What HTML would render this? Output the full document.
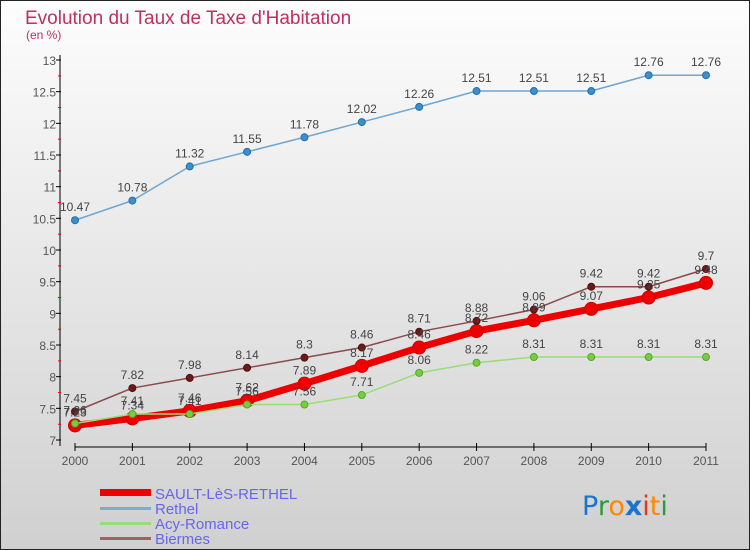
<!DOCTYPE html>
<html><head><meta charset="utf-8"><style>
body{margin:0;}
#wrap{position:relative;width:750px;height:550px;overflow:hidden;font-family:"Liberation Sans",sans-serif;}
</style></head><body>
<div id="wrap">
<svg id="chart" width="750" height="550" xmlns="http://www.w3.org/2000/svg">
<defs><linearGradient id="bg" x1="0" y1="0" x2="0" y2="1"><stop offset="0" stop-color="#fdfdfd"/><stop offset="1" stop-color="#d0d0d0"/></linearGradient></defs>
<rect x="0.5" y="0.5" width="749" height="549" fill="url(#bg)" stroke="#222"/>
<text x="25" y="24" font-size="19" fill="#c0305e">Evolution du Taux de Taxe d'Habitation</text>
<text x="26" y="39" font-size="12" fill="#c0305e">(en %)</text>
<g id="axes"></g><g id="series"></g><g id="labels"></g>
<g>
<rect x="100" y="489" width="51" height="7" fill="#ee0000"/>
<text x="155" y="499" font-size="15" fill="#6666ee">SAULT-LèS-RETHEL</text>
<rect x="100" y="507" width="51" height="3" fill="#7aaed0"/>
<text x="155" y="514" font-size="15" fill="#6666ee">Rethel</text>
<rect x="100" y="522" width="51" height="3" fill="#99dd77"/>
<text x="155" y="529" font-size="15" fill="#6666ee">Acy-Romance</text>
<rect x="100" y="537" width="51" height="3" fill="#996666"/>
<text x="155" y="544" font-size="15" fill="#6666ee">Biermes</text>
</g>
<text x="582" y="515" font-size="27" font-family="'DejaVu Sans',sans-serif"><tspan fill="#1a73cc">P</tspan><tspan fill="#2a9a3a">r</tspan><tspan fill="#ff8800">o</tspan><tspan fill="#1a73cc" font-weight="bold">x</tspan><tspan fill="#ee3311">i</tspan><tspan fill="#ff8800">t</tspan><tspan fill="#2a9a3a">i</tspan></text>
</svg>
</div>
<script>
const years=[2000,2001,2002,2003,2004,2005,2006,2007,2008,2009,2010,2011];
const yTicks=[7,7.5,8,8.5,9,9.5,10,10.5,11,11.5,12,12.5,13];
const sault=[7.23,7.34,7.46,7.62,7.89,8.17,8.46,8.72,8.89,9.07,9.25,9.48];
const rethel=[10.47,10.78,11.32,11.55,11.78,12.02,12.26,12.51,12.51,12.51,12.76,12.76];
const acy=[7.26,7.41,7.41,7.56,7.56,7.71,8.06,8.22,8.31,8.31,8.31,8.31];
const biermes=[7.45,7.82,7.98,8.14,8.3,8.46,8.71,8.88,9.06,9.42,9.42,9.7];
const NS="http://www.w3.org/2000/svg";
const xS=i=>75+i*(706-75)/(years.length-1);
const yS=v=>440-(v-7)*(380/6);
function mk(tag,attrs,parent){const e=document.createElementNS(NS,tag);for(const k in attrs)e.setAttribute(k,attrs[k]);parent.appendChild(e);return e;}
const ax=document.getElementById('axes');
let yl=mk('line',{x1:60,y1:55,x2:60,y2:446,stroke:'#000'},ax);


yTicks.forEach((t,i)=>{
 const y=yS(t);
 mk('line',{x1:56,y1:y,x2:61,y2:y,stroke:'#000'},ax);
 if(i<yTicks.length-1){mk('line',{x1:58,y1:y-15.8,x2:61,y2:y-15.8,stroke:'#e00'},ax);}
 const tx=mk('text',{x:56,y:y+5,'font-size':12,fill:'#555','text-anchor':'end'},ax);
 tx.textContent=String(t);
 
 
});
let xl=mk('line',{x1:75,y1:447,x2:706,y2:447,stroke:'#000'},ax);


years.forEach((yr,i)=>{
 const x=xS(i);
 mk('line',{x1:x,y1:443,x2:x,y2:451,stroke:'#000'},ax);
 const tx=mk('text',{x:x,y:465,'font-size':12,fill:'#555','text-anchor':'middle'},ax);
 tx.textContent=String(yr);
 
 
});
const sg=document.getElementById('series');
const lg=document.getElementById('labels');
function draw(vals,name,color,dot,w,r,dotStroke){
 const g=mk('g',{},sg);
 
 
 const pl=mk('polyline',{points:vals.map((v,i)=>xS(i)+','+yS(v)).join(' '),fill:'none',stroke:color,'stroke-width':w,'stroke-linejoin':'round'},g);
 
 
 vals.forEach((v,i)=>{
  const c=mk('circle',{cx:xS(i),cy:yS(v),r:r,fill:dot,stroke:dotStroke,'stroke-width':1},g);
  
  
  const t=mk('text',{x:xS(i),y:yS(v)-9,'font-size':12,fill:'#444','text-anchor':'middle'},lg);
  t.textContent=String(v);
  
  
 });
}
draw(sault,'sault-les-rethel','#ee0000','#ee0000',7,6.5,'#cc0000');
draw(rethel,'rethel','#6fa6d2','#3a8fd0',1.5,3.5,'#2a6fa0');
draw(acy,'acy-romance','#99dd77','#77cc44',1.5,3.5,'#55aa22');
draw(biermes,'biermes','#8a4a4a','#6a1a1a',1.5,3.5,'#501010');
</script>
</body></html>
